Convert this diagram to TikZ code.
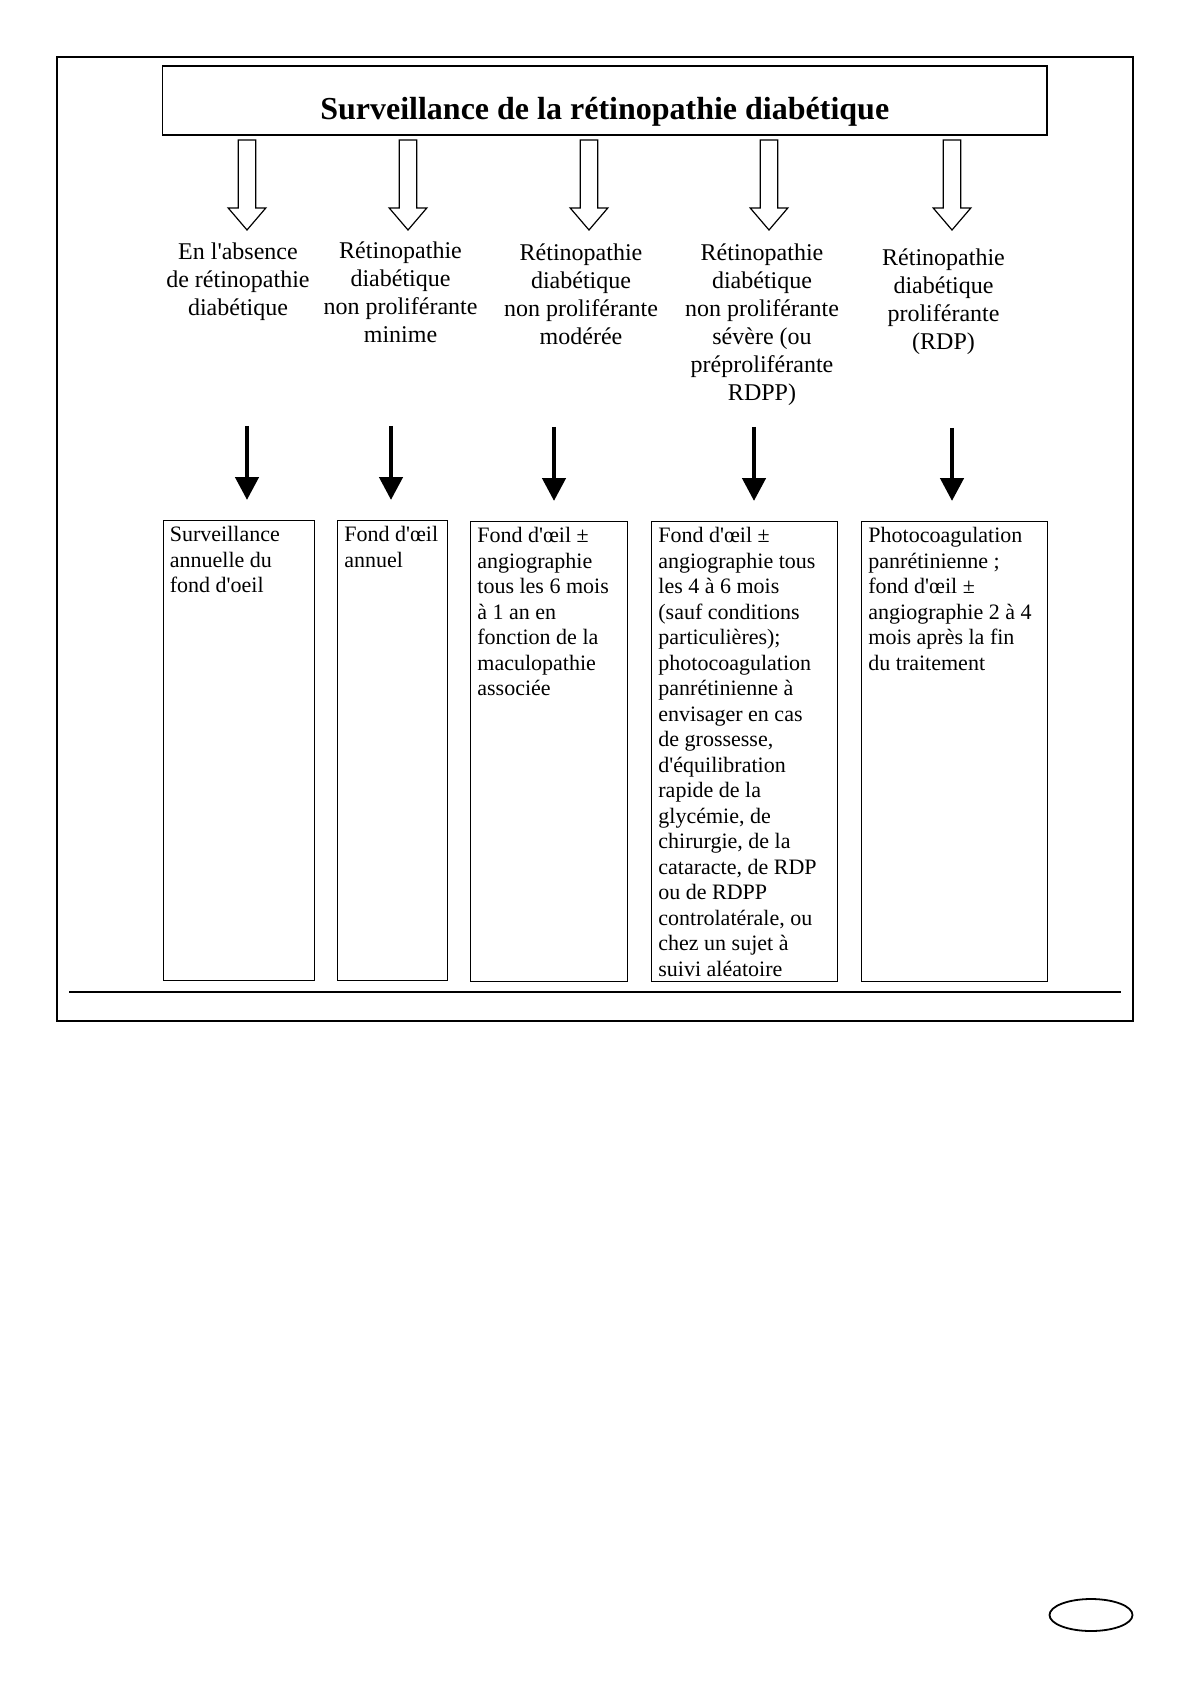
\documentclass[tikz,border=0pt]{standalone}
\usepackage{fontspec}
\setmainfont{Liberation Serif}
\usetikzlibrary{arrows.meta, positioning, shapes.geometric, calc}

\begin{document}
\begin{tikzpicture}[
    x=0.5pt, y=-0.5pt,
    frame/.style={draw, line width=1.2pt},
    titlebox/.style={draw, rectangle, line width=0.6pt, minimum width=442.25pt, minimum height=34.5pt, inner sep=0pt},
    stage/.style={align=center, inner sep=0pt, anchor=north, font=\fontsize{12}{14}\selectfont},
    resultbox/.style={draw, rectangle, line width=0.6pt, inner sep=0pt, anchor=north west, minimum height=230pt},
    result/.style={align=left, inner sep=0pt, anchor=north west, font=\fontsize{11}{12.75}\selectfont},
    blackarrow/.style={-{Triangle[width=11.5pt,length=11.5pt]}, line width=2.3pt, shorten >=10pt},
    hollow/.pic={\draw[line width=0.6pt, fill=white] (-8.8,0) -- (8.8,0) -- (8.8,68) -- (18.8,68) -- (0,90) -- (-18.8,68) -- (-8.8,68) -- cycle;}
]
\useasboundingbox (0,0) rectangle (1190,1684);

% Outer frame
\draw[frame] (57,57) rectangle (1133,1021);

% Title
\node[titlebox] (title) at (604.75,100.5) {};
\node[anchor=base, inner sep=0pt, font=\fontsize{16}{19}\selectfont\bfseries] (titletext) at ([yshift=-9.5pt]title.center) {Surveillance de la rétinopathie diabétique};

% Hollow arrows
\pic at (247,140) {hollow};
\pic at (408,140) {hollow};
\pic at (589,140) {hollow};
\pic at (769,140) {hollow};
\pic at (952,140) {hollow};

% Stages
\node[stage] (absent) at (238,242.5) {En l\textquotesingle absence\\de rétinopathie\\diabétique};
\node[stage] (minimal) at (400.5,241.5) {Rétinopathie\\diabétique\\non proliférante\\minime};
\node[stage] (moderate) at (581,243) {Rétinopathie\\diabétique\\non proliférante\\modérée};
\node[stage] (severe) at (762,243.5) {Rétinopathie\\diabétique\\non proliférante\\sévère (ou\\préproliférante\\RDPP)};
\node[stage] (prolif) at (943.5,248.5) {Rétinopathie\\diabétique\\proliférante\\(RDP)};

% Result boxes
\node[resultbox, minimum width=75.5pt] (b1) at (162.5,520) {};
\node[resultbox, minimum width=55pt] (b2) at (337,520) {};
\node[resultbox, minimum width=78.5pt] (b3) at (470,521) {};
\node[resultbox, minimum width=93pt] (b4) at (651,521) {};
\node[resultbox, minimum width=93pt] (b5) at (861,521) {};

\node[result] (t1) at ([shift={(7,6)}]b1.north west) {Surveillance\\annuelle du\\fond d\textquotesingle oeil};
\node[result] (t2) at ([shift={(7,6)}]b2.north west) {Fond d\textquotesingle œil\\annuel};
\node[result] (t3) at ([shift={(7,6)}]b3.north west) {Fond d\textquotesingle œil ±\\angiographie\\tous les 6 mois\\à 1 an en\\fonction de la\\maculopathie\\associée};
\node[result] (t4) at ([shift={(7,6)}]b4.north west) {Fond d\textquotesingle œil ±\\angiographie tous\\les 4 à 6 mois\\(sauf conditions\\particulières);\\photocoagulation\\panrétinienne à\\envisager en cas\\de grossesse,\\d\textquotesingle équilibration\\rapide de la\\glycémie, de\\chirurgie, de la\\cataracte, de RDP\\ou de RDPP\\controlatérale, ou\\chez un sujet à\\suivi aléatoire};
\node[result] (t5) at ([shift={(7,6)}]b5.north west) {Photocoagulation\\panrétinienne ;\\fond d\textquotesingle œil ±\\angiographie 2 à 4\\mois après la fin\\du traitement};

% Black arrows
\coordinate (a1) at (247,426);
\coordinate (a2) at (391,426);
\coordinate (a3) at (554,427);
\coordinate (a4) at (754,427);
\coordinate (a5) at (952,428);
\draw[blackarrow] (a1) -- (a1 |- b1.north);
\draw[blackarrow] (a2) -- (a2 |- b2.north);
\draw[blackarrow] (a3) -- (a3 |- b3.north);
\draw[blackarrow] (a4) -- (a4 |- b4.north);
\draw[blackarrow] (a5) -- (a5 |- b5.north);

% Bottom rule and page mark
\draw[line width=0.7pt] (69,992) -- (1121,992);
\node[draw, ellipse, line width=0.9pt, minimum width=41.5pt, minimum height=16pt, inner sep=0pt] (mark) at (1091,1615) {};

\end{tikzpicture}
\end{document}
